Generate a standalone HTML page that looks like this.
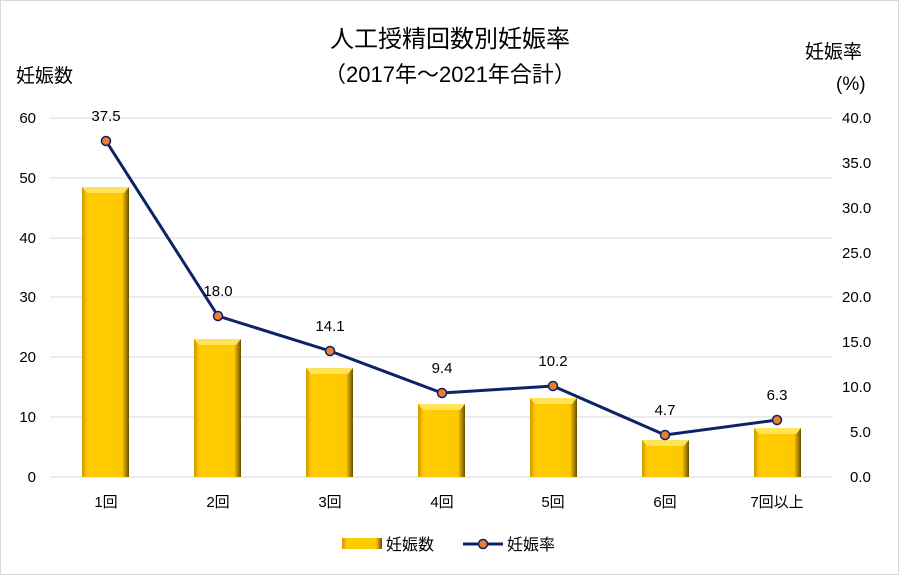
<!DOCTYPE html><html><head><meta charset="utf-8"><style>body{margin:0;background:#fff}svg{display:block}text{font-family:"Liberation Sans","Noto Sans CJK JP",sans-serif;fill:#000}</style></head><body>
<svg width="899" height="575" viewBox="0 0 899 575">
<defs>
<linearGradient id="g" x1="0" x2="1"><stop offset="0" stop-color="#C99A00"/><stop offset="0.12" stop-color="#FFCC00"/><stop offset="0.85" stop-color="#FFC800"/><stop offset="1" stop-color="#6B5200"/></linearGradient>
</defs>
<rect x="0.5" y="0.5" width="898" height="574" fill="#fff" stroke="#d9d9d9"/>
<text x="450" y="47" font-size="24" text-anchor="middle">人工授精回数別妊娠率</text>
<text x="450" y="82" font-size="22" text-anchor="middle">（2017年～2021年合計）</text>
<text x="16" y="82" font-size="19">妊娠数</text>
<text x="805" y="58" font-size="19">妊娠率</text>
<text x="836" y="90" font-size="19">(%)</text>
<g stroke="#d9d9d9" stroke-width="1">
<line x1="50" x2="833" y1="118" y2="118"/><line x1="50" x2="833" y1="178" y2="178"/><line x1="50" x2="833" y1="238" y2="238"/><line x1="50" x2="833" y1="297" y2="297"/><line x1="50" x2="833" y1="357" y2="357"/><line x1="50" x2="833" y1="417" y2="417"/><line x1="50" x2="833" y1="477" y2="477"/>
</g>
<g font-size="15" text-anchor="end">
<text x="36" y="123">60</text><text x="36" y="183">50</text><text x="36" y="243">40</text><text x="36" y="302">30</text><text x="36" y="362">20</text><text x="36" y="422">10</text><text x="36" y="482">0</text>
</g>
<g font-size="15">
<text x="842" y="123">40.0</text><text x="842" y="168">35.0</text><text x="842" y="213">30.0</text><text x="842" y="258">25.0</text><text x="842" y="302">20.0</text><text x="842" y="347">15.0</text><text x="842" y="392">10.0</text><text x="850" y="437">5.0</text><text x="850" y="482">0.0</text>
</g>
<g id="bars">
<rect x="82" y="187" width="47" height="290" fill="url(#g)"/><polygon points="82,187 129,187 124,193 87,193" fill="#FFE35A"/>
<rect x="194" y="339" width="47" height="138" fill="url(#g)"/><polygon points="194,339 241,339 236,345 199,345" fill="#FFE35A"/>
<rect x="306" y="368" width="47" height="109" fill="url(#g)"/><polygon points="306,368 353,368 348,374 311,374" fill="#FFE35A"/>
<rect x="418" y="404" width="47" height="73" fill="url(#g)"/><polygon points="418,404 465,404 460,410 423,410" fill="#FFE35A"/>
<rect x="530" y="398" width="47" height="79" fill="url(#g)"/><polygon points="530,398 577,398 572,404 535,404" fill="#FFE35A"/>
<rect x="642" y="440" width="47" height="37" fill="url(#g)"/><polygon points="642,440 689,440 684,446 647,446" fill="#FFE35A"/>
<rect x="754" y="428" width="47" height="49" fill="url(#g)"/><polygon points="754,428 801,428 796,434 759,434" fill="#FFE35A"/>
</g>
<polyline points="106,141 218,316 330,351 442,393 553,386 665,435 777,420" fill="none" stroke="#0D2366" stroke-width="3"/>
<g fill="#ED7D31" stroke="#0D2366" stroke-width="1.5">
<circle cx="106" cy="141" r="4.5"/><circle cx="218" cy="316" r="4.5"/><circle cx="330" cy="351" r="4.5"/><circle cx="442" cy="393" r="4.5"/><circle cx="553" cy="386" r="4.5"/><circle cx="665" cy="435" r="4.5"/><circle cx="777" cy="420" r="4.5"/>
</g>
<g font-size="15" text-anchor="middle">
<text x="106" y="121">37.5</text><text x="218" y="296">18.0</text><text x="330" y="331">14.1</text><text x="442" y="373">9.4</text><text x="553" y="366">10.2</text><text x="665" y="415">4.7</text><text x="777" y="400">6.3</text>
</g>
<g font-size="15" text-anchor="middle">
<text x="106" y="507">1回</text><text x="218" y="507">2回</text><text x="330" y="507">3回</text><text x="442" y="507">4回</text><text x="553" y="507">5回</text><text x="665" y="507">6回</text><text x="777" y="507">7回以上</text>
</g>
<rect x="342" y="538" width="40" height="11" fill="url(#g)"/>
<text x="386" y="550" font-size="16">妊娠数</text>
<line x1="463" x2="503" y1="544" y2="544" stroke="#0D2366" stroke-width="3"/>
<circle cx="483" cy="544" r="4.5" fill="#ED7D31" stroke="#0D2366" stroke-width="1.5"/>
<text x="507" y="550" font-size="16">妊娠率</text>
</svg></body></html>
